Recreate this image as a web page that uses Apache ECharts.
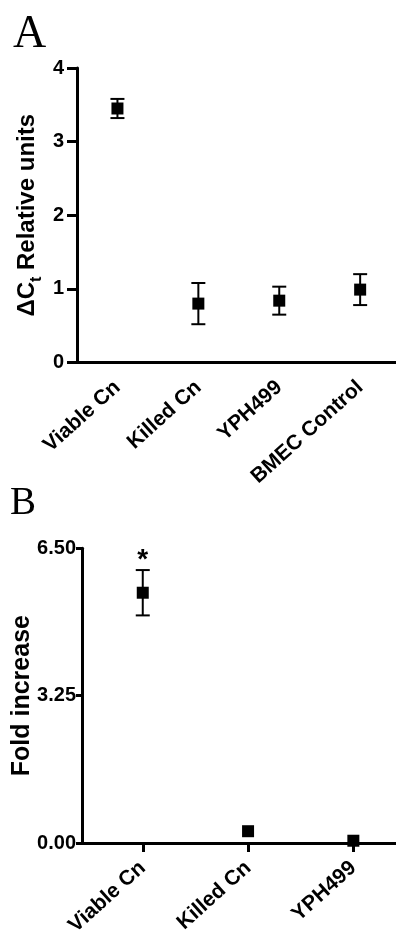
<!DOCTYPE html>
<html>
<head>
<meta charset="utf-8">
<script src="https://cdn.jsdelivr.net/npm/echarts@6/dist/echarts.min.js"></script>
<style>
html,body{margin:0;padding:0;background:#fff;}
#chart{width:396px;height:941px;}
</style>
</head>
<body>
<div id="chart"></div>
<script>
// ---- Data ----
const catsA = ['Viable Cn', 'Killed Cn', 'YPH499', 'BMEC Control'];
const meanA = [3.45, 0.80, 0.84, 0.99];
const errA  = [0.13, 0.28, 0.19, 0.21];
const ticksA = [0, 1, 2, 3, 4];

const catsB = ['Viable Cn', 'Killed Cn', 'YPH499'];
const meanB = [5.52, 0.26, 0.05];
const errB  = [0.50, 0, 0];
const sigB  = ['*', '', ''];
const ticksB = [0, 3.25, 6.5];

const FONT = 'Liberation Sans, Arial, Helvetica, sans-serif';

function errRender(sigs) {
  return function (params, api) {
    const x = api.value(0), m = api.value(1), e = api.value(2);
    const idx = params.dataIndex;
    const children = [];
    const top = api.coord([x, m + e]);
    const bot = api.coord([x, m - e]);
    const half = 7;
    const st = { stroke: '#000', lineWidth: 2 };
    if (e > 0) {
      children.push({ type: 'line', shape: { x1: top[0], y1: top[1], x2: bot[0], y2: bot[1] }, style: st });
      children.push({ type: 'line', shape: { x1: top[0] - half, y1: top[1], x2: top[0] + half, y2: top[1] }, style: st });
      children.push({ type: 'line', shape: { x1: bot[0] - half, y1: bot[1], x2: bot[0] + half, y2: bot[1] }, style: st });
    }
    if (sigs && sigs[idx]) {
      children.push({ type: 'text', style: { text: sigs[idx], x: top[0], y: top[1] + 4, align: 'center', verticalAlign: 'bottom', fontSize: 28, fontWeight: 'bold', fontFamily: FONT, fill: '#000' } });
    }
    return { type: 'group', children: children };
  };
}

const axisLineStyle = { color: '#000', width: 3 };

const option = {
  animation: false,
  backgroundColor: '#fff',
  title: [
    { text: 'A', left: 8, top: 7, textStyle: { fontFamily: 'Liberation Serif, Times New Roman, serif', fontWeight: 'normal', fontSize: 46, color: '#000' } },
    { text: 'B', left: 5, top: 479, textStyle: { fontFamily: 'Liberation Serif, Times New Roman, serif', fontWeight: 'normal', fontSize: 39, color: '#000' } }
  ],
  grid: [
    { left: 77, top: 68, height: 294.5, right: -4.6, outerBoundsMode: 'none', containLabel: false },
    { left: 82, top: 548.3, height: 294.7, right: 0, outerBoundsMode: 'none', containLabel: false }
  ],
  xAxis: [
    {
      gridIndex: 0, type: 'category', data: catsA, boundaryGap: true,
      axisLine: { lineStyle: axisLineStyle },
      axisTick: { alignWithLabel: true, length: 9, lineStyle: { color: '#000', width: 3 } },
      axisLabel: { rotate: 42, margin: 22, interval: 0, fontSize: 21, fontWeight: 'bold', fontFamily: FONT, color: '#000' },
      splitLine: { show: false }
    },
    {
      gridIndex: 1, type: 'value', min: -0.577, max: 2.405,
      axisLine: { onZero: false, lineStyle: axisLineStyle },
      axisTick: { customValues: catsB.map((c, i) => i), length: 9, lineStyle: { color: '#000', width: 3 } },
      axisLabel: { customValues: catsB.map((c, i) => i), formatter: v => catsB[Math.round(v)] || '', rotate: 42, margin: 22, fontSize: 21, fontWeight: 'bold', fontFamily: FONT, color: '#000' },
      splitLine: { show: false }
    }
  ],
  yAxis: [
    {
      gridIndex: 0, type: 'value', min: 0, max: 4, interval: 1,
      axisLine: { show: true, onZero: false, lineStyle: axisLineStyle },
      axisTick: { show: true, length: 10, lineStyle: { color: '#000', width: 3 } },
      axisLabel: { margin: 13, fontSize: 20, fontWeight: 'bold', fontFamily: FONT, color: '#000', formatter: v => ticksA.includes(v) ? String(v) : '' },
      splitLine: { show: false },
      name: '{n|ΔC}{s|t}{n| Relative units}', nameLocation: 'middle', nameGap: 38, nameMoveOverlap: false,
      nameTextStyle: {
        rich: {
          n: { fontSize: 24, fontWeight: 'bold', fontFamily: FONT, color: '#000', lineHeight: 30, verticalAlign: 'bottom' },
          s: { fontSize: 16, fontWeight: 'bold', fontFamily: FONT, color: '#000', lineHeight: 30, verticalAlign: 'bottom', padding: [0, 0, -6, 0] }
        }
      }
    },
    {
      gridIndex: 1, type: 'value', min: 0, max: 6.5, interval: 3.25,
      axisLine: { show: true, onZero: false, lineStyle: axisLineStyle },
      axisTick: { show: true, length: 6, lineStyle: { color: '#000', width: 3 } },
      axisLabel: { margin: 6, fontSize: 20, fontWeight: 'bold', fontFamily: FONT, color: '#000', formatter: v => ticksB.includes(v) ? v.toFixed(2) : '' },
      splitLine: { show: false },
      name: 'Fold increase', nameLocation: 'middle', nameGap: 47, nameMoveOverlap: false,
      nameTextStyle: { fontSize: 25, fontWeight: 'bold', fontFamily: FONT, color: '#000' }
    }
  ],
  series: [
    {
      type: 'custom', xAxisIndex: 0, yAxisIndex: 0,
      renderItem: errRender(null),
      data: catsA.map((c, i) => [i, meanA[i], errA[i]]), z: 3
    },
    {
      type: 'scatter', xAxisIndex: 0, yAxisIndex: 0, symbol: 'rect', symbolSize: 12,
      itemStyle: { color: '#000', opacity: 1 },
      data: catsA.map((c, i) => [i, meanA[i]]), z: 4
    },
    {
      type: 'custom', xAxisIndex: 1, yAxisIndex: 1,
      renderItem: errRender(sigB),
      data: catsB.map((c, i) => [i, meanB[i], errB[i]]), z: 3
    },
    {
      type: 'scatter', xAxisIndex: 1, yAxisIndex: 1, symbol: 'rect', symbolSize: 12,
      itemStyle: { color: '#000', opacity: 1 },
      data: catsB.map((c, i) => [i, meanB[i]]), z: 4
    }
  ]
};

const chart = echarts.init(document.getElementById('chart'));
chart.setOption(option);
</script>
</body>
</html>
